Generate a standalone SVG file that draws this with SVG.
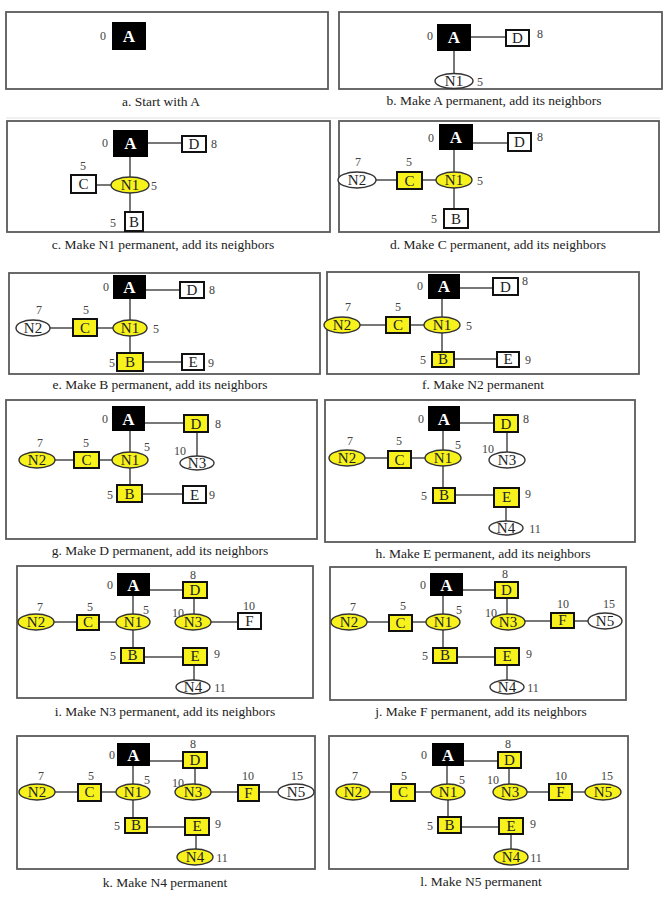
<svg xmlns="http://www.w3.org/2000/svg" width="672" height="900" viewBox="0 0 672 900" font-family="'Liberation Serif', serif">
<style>
.frame{fill:none;stroke:#5a5a5a;stroke-width:1.8}
.edge{stroke:#4a4a4a;stroke-width:1.5;fill:none}
.box{fill:#fff;stroke:#111;stroke-width:2}
.ell{fill:#fff;stroke:#333;stroke-width:1.4}
.y{fill:#f7f21c}
.blk{fill:#000;stroke:#000}
.l,.a,.n,.cap{font-family:'Liberation Serif',serif;text-anchor:middle}
.l{font-size:15px;fill:#222}
.a{font-size:17px;font-weight:bold;fill:#fff}
.n{font-size:12px;fill:#444}
.cap{font-size:13.5px;fill:#222}
.sep{stroke:#e2e2e2;stroke-width:1}
</style>
<rect width="672" height="900" fill="#fff"/>
<line class="sep" x1="6" y1="118" x2="660" y2="118"/>

<!-- Panel a -->
<g id="panel-a">
<rect class="frame" x="6" y="12" width="322" height="77"/>
<g id="a-A"><rect class="box blk" x="113" y="23" width="32" height="26"/><text class="a" x="129" y="42">A</text><text class="n" x="103" y="40">0</text></g>
<text class="cap" x="161" y="106">a. Start with  A</text>
</g>

<!-- Panel b -->
<g id="panel-b">
<rect class="frame" x="339" y="12" width="323" height="77"/>
<g id="b-edges"><line class="edge" x1="470" y1="37" x2="506" y2="37"/><line class="edge" x1="454" y1="50" x2="454" y2="73"/></g>
<g id="b-A"><rect class="box blk" x="438" y="25" width="32" height="25"/><text class="a" x="454" y="43">A</text><text class="n" x="430" y="40">0</text></g>
<g id="b-D"><rect class="box" x="506" y="30" width="23" height="16"/><text class="l" x="517.5" y="43">D</text><text class="n" x="540" y="38">8</text></g>
<g id="b-N1"><ellipse class="ell" cx="454" cy="81" rx="19" ry="7.5"/><text class="l" x="454" y="86">N1</text><text class="n" x="480" y="86">5</text></g>
<text class="cap" x="494" y="105">b. Make A permanent, add its neighbors</text>
</g>

<!-- Panel c -->
<g id="panel-c">
<rect class="frame" x="7" y="121" width="323" height="111"/>
<g id="c-edges"><line class="edge" x1="147" y1="143" x2="182" y2="143"/><line class="edge" x1="130" y1="156" x2="130" y2="177"/><line class="edge" x1="96" y1="185" x2="111" y2="185"/><line class="edge" x1="130" y1="193" x2="130" y2="212"/></g>
<g id="c-A"><rect class="box blk" x="114" y="131" width="33" height="25"/><text class="a" x="130.5" y="149">A</text><text class="n" x="105" y="147">0</text></g>
<g id="c-D"><rect class="box" x="182" y="136" width="24" height="16"/><text class="l" x="194" y="149">D</text><text class="n" x="214" y="148">8</text></g>
<g id="c-N1"><ellipse class="ell y" cx="130" cy="185" rx="19" ry="8"/><text class="l" x="130" y="190">N1</text><text class="n" x="154" y="190">5</text></g>
<g id="c-C"><rect class="box" x="71" y="175" width="25" height="18"/><text class="l" x="83.5" y="189">C</text><text class="n" x="83" y="170">5</text></g>
<g id="c-B"><rect class="box" x="125" y="212" width="18" height="19"/><text class="l" x="134" y="227">B</text><text class="n" x="113" y="227">5</text></g>
<text class="cap" x="163" y="249">c. Make N1 permanent, add its neighbors</text>
</g>

<!-- Panel d -->
<g id="panel-d">
<rect class="frame" x="339" y="121" width="320" height="111"/>
<g id="d-edges"><line class="edge" x1="472" y1="143" x2="508" y2="143"/><line class="edge" x1="454" y1="149" x2="454" y2="172"/><line class="edge" x1="422" y1="180" x2="436" y2="180"/><line class="edge" x1="376" y1="180" x2="397" y2="180"/><line class="edge" x1="454" y1="188" x2="454" y2="209"/></g>
<g id="d-A"><rect class="box blk" x="440" y="125" width="32" height="24"/><text class="a" x="456" y="143">A</text><text class="n" x="431" y="142">0</text></g>
<g id="d-D"><rect class="box" x="508" y="133" width="23" height="18"/><text class="l" x="519.5" y="147">D</text><text class="n" x="540" y="141">8</text></g>
<g id="d-N1"><ellipse class="ell y" cx="454" cy="180" rx="18" ry="8"/><text class="l" x="454" y="185">N1</text><text class="n" x="480" y="185">5</text></g>
<g id="d-C"><rect class="box y" x="397" y="172" width="25" height="17"/><text class="l" x="409.5" y="186">C</text><text class="n" x="409" y="166">5</text></g>
<g id="d-N2"><ellipse class="ell" cx="357" cy="180" rx="19" ry="8"/><text class="l" x="357" y="185">N2</text><text class="n" x="358" y="166">7</text></g>
<g id="d-B"><rect class="box" x="444" y="209" width="24" height="19"/><text class="l" x="456" y="224">B</text><text class="n" x="434" y="223">5</text></g>
<text class="cap" x="498" y="249">d. Make  C permanent, add its neighbors</text>
</g>

<!-- Panel e -->
<g id="panel-e">
<rect class="frame" x="9" y="273" width="311" height="101"/>
<g id="e-edges"><line class="edge" x1="145" y1="290" x2="180" y2="290"/><line class="edge" x1="130" y1="298" x2="130" y2="320"/><line class="edge" x1="97" y1="328" x2="113" y2="328"/><line class="edge" x1="50" y1="328" x2="73" y2="328"/><line class="edge" x1="130" y1="336" x2="130" y2="353"/><line class="edge" x1="143" y1="362" x2="182" y2="362"/></g>
<g id="e-A"><rect class="box blk" x="114" y="276" width="31" height="22"/><text class="a" x="129.5" y="293">A</text><text class="n" x="106" y="291">0</text></g>
<g id="e-D"><rect class="box" x="180" y="282" width="24" height="16"/><text class="l" x="192" y="295">D</text><text class="n" x="212" y="294">8</text></g>
<g id="e-N1"><ellipse class="ell y" cx="130" cy="328" rx="17" ry="8"/><text class="l" x="130" y="333">N1</text><text class="n" x="156" y="333">5</text></g>
<g id="e-C"><rect class="box y" x="73" y="319" width="24" height="17"/><text class="l" x="85" y="333">C</text><text class="n" x="86" y="314">5</text></g>
<g id="e-N2"><ellipse class="ell" cx="33" cy="328" rx="17" ry="8"/><text class="l" x="33" y="333">N2</text><text class="n" x="39" y="314">7</text></g>
<g id="e-B"><rect class="box y" x="117" y="353" width="26" height="18"/><text class="l" x="130" y="367">B</text><text class="n" x="112" y="367">5</text></g>
<g id="e-E"><rect class="box" x="182" y="354" width="22" height="16"/><text class="l" x="193" y="367">E</text><text class="n" x="211" y="367">9</text></g>
<text class="cap" x="160" y="389">e. Make B permanent, add its neighbors</text>
</g>

<!-- Panel f -->
<g id="panel-f">
<rect class="frame" x="327" y="272" width="312" height="102"/>
<g id="f-edges"><line class="edge" x1="459" y1="288" x2="493" y2="288"/><line class="edge" x1="442" y1="298" x2="442" y2="317"/><line class="edge" x1="410" y1="325" x2="424" y2="325"/><line class="edge" x1="360" y1="325" x2="386" y2="325"/><line class="edge" x1="442" y1="333" x2="442" y2="352"/><line class="edge" x1="454" y1="359" x2="497" y2="359"/></g>
<g id="f-A"><rect class="box blk" x="429" y="275" width="30" height="23"/><text class="a" x="444" y="292">A</text><text class="n" x="420" y="290">0</text></g>
<g id="f-D"><rect class="box" x="493" y="278" width="25" height="17"/><text class="l" x="505.5" y="292">D</text><text class="n" x="525" y="285">8</text></g>
<g id="f-N1"><ellipse class="ell y" cx="442" cy="325" rx="18" ry="8"/><text class="l" x="442" y="330">N1</text><text class="n" x="469" y="330">5</text></g>
<g id="f-C"><rect class="box y" x="386" y="317" width="24" height="16"/><text class="l" x="398" y="330">C</text><text class="n" x="398" y="311">5</text></g>
<g id="f-N2"><ellipse class="ell y" cx="342" cy="325" rx="18" ry="8"/><text class="l" x="342" y="330">N2</text><text class="n" x="348" y="311">7</text></g>
<g id="f-B"><rect class="box y" x="432" y="352" width="22" height="15"/><text class="l" x="443" y="364">B</text><text class="n" x="423" y="364">5</text></g>
<g id="f-E"><rect class="box" x="497" y="352" width="22" height="15"/><text class="l" x="508" y="364">E</text><text class="n" x="528" y="364">9</text></g>
<text class="cap" x="483" y="389">f. Make N2 permanent</text>
</g>

<!-- Panel g -->
<g id="panel-g">
<rect class="frame" x="6" y="400" width="311" height="139"/>
<g id="g-edges"><line class="edge" x1="144" y1="423" x2="184" y2="423"/><line class="edge" x1="130" y1="430" x2="130" y2="452"/><line class="edge" x1="99" y1="460" x2="112" y2="460"/><line class="edge" x1="55" y1="460" x2="74" y2="460"/><line class="edge" x1="197" y1="432" x2="197" y2="456"/><line class="edge" x1="130" y1="468" x2="130" y2="485"/><line class="edge" x1="142" y1="494" x2="183" y2="494"/></g>
<g id="g-A"><rect class="box blk" x="113" y="407" width="31" height="23"/><text class="a" x="128.5" y="425">A</text><text class="n" x="105" y="423">0</text></g>
<g id="g-D"><rect class="box y" x="184" y="415" width="24" height="17"/><text class="l" x="196" y="429">D</text><text class="n" x="218" y="428">8</text></g>
<g id="g-N1"><ellipse class="ell y" cx="130" cy="460" rx="18" ry="8"/><text class="l" x="130" y="465">N1</text><text class="n" x="147" y="451">5</text></g>
<g id="g-C"><rect class="box y" x="74" y="452" width="25" height="16"/><text class="l" x="86.5" y="465">C</text><text class="n" x="86" y="447">5</text></g>
<g id="g-N2"><ellipse class="ell y" cx="37" cy="460" rx="18" ry="8"/><text class="l" x="37" y="465">N2</text><text class="n" x="40" y="447">7</text></g>
<g id="g-N3"><ellipse class="ell" cx="197" cy="463" rx="17" ry="7"/><text class="l" x="197" y="468">N3</text><text class="n" x="180" y="455">10</text></g>
<g id="g-B"><rect class="box y" x="117" y="485" width="25" height="17"/><text class="l" x="129.5" y="499">B</text><text class="n" x="110" y="499">5</text></g>
<g id="g-E"><rect class="box" x="183" y="486" width="23" height="17"/><text class="l" x="194.5" y="500">E</text><text class="n" x="212" y="499">9</text></g>
<text class="cap" x="160" y="555">g. Make D permanent, add its neighbors</text>
</g>

<!-- Panel h -->
<g id="panel-h">
<rect class="frame" x="325" y="400" width="310" height="142"/>
<g id="h-edges"><line class="edge" x1="459" y1="423" x2="494" y2="423"/><line class="edge" x1="443" y1="430" x2="443" y2="450"/><line class="edge" x1="411" y1="458" x2="425" y2="458"/><line class="edge" x1="365" y1="458" x2="388" y2="458"/><line class="edge" x1="507" y1="432" x2="507" y2="452"/><line class="edge" x1="443" y1="466" x2="443" y2="488"/><line class="edge" x1="455" y1="495" x2="494" y2="495"/><line class="edge" x1="506" y1="507" x2="506" y2="521"/></g>
<g id="h-A"><rect class="box blk" x="429" y="407" width="30" height="23"/><text class="a" x="444" y="425">A</text><text class="n" x="421" y="423">0</text></g>
<g id="h-D"><rect class="box y" x="494" y="415" width="24" height="17"/><text class="l" x="506" y="429">D</text><text class="n" x="526" y="423">8</text></g>
<g id="h-N1"><ellipse class="ell y" cx="443" cy="458" rx="18" ry="8"/><text class="l" x="443" y="463">N1</text><text class="n" x="458" y="449">5</text></g>
<g id="h-C"><rect class="box y" x="388" y="451" width="23" height="17"/><text class="l" x="399.5" y="465">C</text><text class="n" x="399" y="445">5</text></g>
<g id="h-N2"><ellipse class="ell y" cx="347" cy="458" rx="18" ry="8"/><text class="l" x="347" y="463">N2</text><text class="n" x="350" y="445">7</text></g>
<g id="h-N3"><ellipse class="ell" cx="507" cy="460" rx="18" ry="8"/><text class="l" x="507" y="465">N3</text><text class="n" x="488" y="453">10</text></g>
<g id="h-B"><rect class="box y" x="433" y="488" width="22" height="15"/><text class="l" x="444" y="500">B</text><text class="n" x="424" y="500">5</text></g>
<g id="h-E"><rect class="box y" x="494" y="488" width="25" height="19"/><text class="l" x="506.5" y="502">E</text><text class="n" x="528" y="498">9</text></g>
<g id="h-N4"><ellipse class="ell" cx="506" cy="528" rx="17" ry="7"/><text class="l" x="506" y="533">N4</text><text class="n" x="535" y="533">11</text></g>
<text class="cap" x="483" y="558">h. Make E permanent, add its neighbors</text>
</g>

<!-- Panel i -->
<g id="panel-i">
<rect class="frame" x="17" y="566" width="296" height="132"/>
<g id="i-edges"><line class="edge" x1="149" y1="590" x2="183" y2="590"/><line class="edge" x1="133" y1="595" x2="133" y2="614"/><line class="edge" x1="99" y1="622" x2="116" y2="622"/><line class="edge" x1="54" y1="622" x2="77" y2="622"/><line class="edge" x1="194" y1="598" x2="194" y2="614"/><line class="edge" x1="211" y1="622" x2="238" y2="622"/><line class="edge" x1="133" y1="630" x2="133" y2="648"/><line class="edge" x1="144" y1="657" x2="183" y2="657"/><line class="edge" x1="194" y1="665" x2="194" y2="680"/></g>
<g id="i-A"><rect class="box blk" x="118" y="574" width="31" height="21"/><text class="a" x="133.5" y="591">A</text><text class="n" x="110" y="589">0</text></g>
<g id="i-D"><rect class="box y" x="183" y="582" width="24" height="16"/><text class="l" x="195" y="595">D</text><text class="n" x="193" y="579">8</text></g>
<g id="i-N1"><ellipse class="ell y" cx="133" cy="622" rx="17" ry="8"/><text class="l" x="133" y="627">N1</text><text class="n" x="146" y="614">5</text></g>
<g id="i-C"><rect class="box y" x="77" y="615" width="22" height="15"/><text class="l" x="88" y="627">C</text><text class="n" x="90" y="611">5</text></g>
<g id="i-N2"><ellipse class="ell y" cx="36" cy="622" rx="18" ry="8"/><text class="l" x="36" y="627">N2</text><text class="n" x="40" y="611">7</text></g>
<g id="i-N3"><ellipse class="ell y" cx="193" cy="622" rx="18" ry="8"/><text class="l" x="193" y="627">N3</text><text class="n" x="178" y="617">10</text></g>
<g id="i-F"><rect class="box" x="238" y="613" width="23" height="16"/><text class="l" x="249.5" y="626">F</text><text class="n" x="249" y="610">10</text></g>
<g id="i-B"><rect class="box y" x="121" y="648" width="23" height="15"/><text class="l" x="132.5" y="660">B</text><text class="n" x="113" y="660">5</text></g>
<g id="i-E"><rect class="box y" x="183" y="648" width="24" height="17"/><text class="l" x="195" y="661">E</text><text class="n" x="217" y="658">9</text></g>
<g id="i-N4"><ellipse class="ell" cx="193" cy="687" rx="17" ry="7"/><text class="l" x="193" y="692">N4</text><text class="n" x="220" y="692">11</text></g>
<text class="cap" x="165" y="716">i. Make N3 permanent, add its neighbors</text>
</g>

<!-- Panel j -->
<g id="panel-j">
<rect class="frame" x="330" y="567" width="296" height="133"/>
<g id="j-edges"><line class="edge" x1="462" y1="590" x2="495" y2="590"/><line class="edge" x1="443" y1="595" x2="443" y2="614"/><line class="edge" x1="412" y1="622" x2="426" y2="622"/><line class="edge" x1="367" y1="622" x2="389" y2="622"/><line class="edge" x1="507" y1="598" x2="507" y2="614"/><line class="edge" x1="525" y1="621" x2="551" y2="621"/><line class="edge" x1="574" y1="621" x2="588" y2="621"/><line class="edge" x1="443" y1="630" x2="443" y2="648"/><line class="edge" x1="457" y1="657" x2="495" y2="657"/><line class="edge" x1="507" y1="665" x2="507" y2="680"/></g>
<g id="j-A"><rect class="box blk" x="431" y="574" width="31" height="21"/><text class="a" x="446.5" y="591">A</text><text class="n" x="423" y="589">0</text></g>
<g id="j-D"><rect class="box y" x="495" y="582" width="23" height="16"/><text class="l" x="506.5" y="595">D</text><text class="n" x="505" y="578">8</text></g>
<g id="j-N1"><ellipse class="ell y" cx="443" cy="622" rx="17" ry="8"/><text class="l" x="443" y="627">N1</text><text class="n" x="459" y="614">5</text></g>
<g id="j-C"><rect class="box y" x="389" y="615" width="23" height="16"/><text class="l" x="400.5" y="628">C</text><text class="n" x="403" y="610">5</text></g>
<g id="j-N2"><ellipse class="ell y" cx="349" cy="622" rx="18" ry="8"/><text class="l" x="349" y="627">N2</text><text class="n" x="353" y="611">7</text></g>
<g id="j-N3"><ellipse class="ell y" cx="508" cy="622" rx="17" ry="8"/><text class="l" x="508" y="627">N3</text><text class="n" x="491" y="617">10</text></g>
<g id="j-F"><rect class="box y" x="551" y="613" width="23" height="15"/><text class="l" x="562.5" y="625">F</text><text class="n" x="563" y="608">10</text></g>
<g id="j-N5"><ellipse class="ell" cx="605" cy="621" rx="17" ry="8"/><text class="l" x="605" y="626">N5</text><text class="n" x="609" y="608">15</text></g>
<g id="j-B"><rect class="box y" x="433" y="648" width="24" height="15"/><text class="l" x="445" y="660">B</text><text class="n" x="425" y="660">5</text></g>
<g id="j-E"><rect class="box y" x="495" y="648" width="24" height="17"/><text class="l" x="507" y="661">E</text><text class="n" x="529" y="658">9</text></g>
<g id="j-N4"><ellipse class="ell" cx="507" cy="687" rx="17" ry="7"/><text class="l" x="507" y="692">N4</text><text class="n" x="533" y="692">11</text></g>
<text class="cap" x="481" y="716">j. Make F permanent, add its neighbors</text>
</g>

<!-- Panel k -->
<g id="panel-k">
<rect class="frame" x="17" y="736" width="298" height="133"/>
<g id="k-edges"><line class="edge" x1="149" y1="761" x2="183" y2="761"/><line class="edge" x1="133" y1="765" x2="133" y2="784"/><line class="edge" x1="101" y1="792" x2="116" y2="792"/><line class="edge" x1="55" y1="792" x2="78" y2="792"/><line class="edge" x1="195" y1="768" x2="195" y2="784"/><line class="edge" x1="211" y1="792" x2="238" y2="792"/><line class="edge" x1="259" y1="792" x2="278" y2="792"/><line class="edge" x1="133" y1="800" x2="133" y2="818"/><line class="edge" x1="147" y1="827" x2="185" y2="827"/><line class="edge" x1="196" y1="835" x2="196" y2="849"/></g>
<g id="k-A"><rect class="box blk" x="118" y="744" width="31" height="21"/><text class="a" x="133.5" y="761">A</text><text class="n" x="112" y="759">0</text></g>
<g id="k-D"><rect class="box y" x="183" y="752" width="24" height="16"/><text class="l" x="195" y="765">D</text><text class="n" x="193" y="748">8</text></g>
<g id="k-N1"><ellipse class="ell y" cx="133" cy="792" rx="17" ry="8"/><text class="l" x="133" y="797">N1</text><text class="n" x="147" y="784">5</text></g>
<g id="k-C"><rect class="box y" x="78" y="784" width="23" height="17"/><text class="l" x="89.5" y="797">C</text><text class="n" x="91" y="780">5</text></g>
<g id="k-N2"><ellipse class="ell y" cx="37" cy="792" rx="18" ry="8"/><text class="l" x="37" y="797">N2</text><text class="n" x="41" y="780">7</text></g>
<g id="k-N3"><ellipse class="ell y" cx="193" cy="792" rx="18" ry="8"/><text class="l" x="193" y="797">N3</text><text class="n" x="178" y="787">10</text></g>
<g id="k-F"><rect class="box y" x="238" y="785" width="21" height="16"/><text class="l" x="248.5" y="798">F</text><text class="n" x="248" y="780">10</text></g>
<g id="k-N5"><ellipse class="ell" cx="296" cy="792" rx="18" ry="8"/><text class="l" x="296" y="797">N5</text><text class="n" x="297" y="780">15</text></g>
<g id="k-B"><rect class="box y" x="125" y="818" width="22" height="15"/><text class="l" x="136" y="830">B</text><text class="n" x="117" y="830">5</text></g>
<g id="k-E"><rect class="box y" x="185" y="818" width="24" height="17"/><text class="l" x="197" y="831">E</text><text class="n" x="218" y="828">9</text></g>
<g id="k-N4"><ellipse class="ell y" cx="195" cy="857" rx="18" ry="8"/><text class="l" x="195" y="862">N4</text><text class="n" x="222" y="862">11</text></g>
<text class="cap" x="165" y="887">k. Make N4 permanent</text>
</g>

<!-- Panel l -->
<g id="panel-l">
<rect class="frame" x="329" y="736" width="299" height="133"/>
<g id="l-edges"><line class="edge" x1="463" y1="761" x2="498" y2="761"/><line class="edge" x1="447" y1="765" x2="447" y2="784"/><line class="edge" x1="415" y1="792" x2="431" y2="792"/><line class="edge" x1="370" y1="792" x2="391" y2="792"/><line class="edge" x1="509" y1="768" x2="509" y2="784"/><line class="edge" x1="527" y1="792" x2="549" y2="792"/><line class="edge" x1="572" y1="792" x2="585" y2="792"/><line class="edge" x1="448" y1="800" x2="448" y2="817"/><line class="edge" x1="461" y1="827" x2="499" y2="827"/><line class="edge" x1="511" y1="834" x2="511" y2="849"/></g>
<g id="l-A"><rect class="box blk" x="433" y="744" width="30" height="21"/><text class="a" x="448" y="761">A</text><text class="n" x="424" y="759">0</text></g>
<g id="l-D"><rect class="box y" x="498" y="752" width="23" height="16"/><text class="l" x="509.5" y="765">D</text><text class="n" x="508" y="748">8</text></g>
<g id="l-N1"><ellipse class="ell y" cx="448" cy="792" rx="17" ry="8"/><text class="l" x="448" y="797">N1</text><text class="n" x="462" y="784">5</text></g>
<g id="l-C"><rect class="box y" x="391" y="784" width="24" height="17"/><text class="l" x="403" y="797">C</text><text class="n" x="404" y="780">5</text></g>
<g id="l-N2"><ellipse class="ell y" cx="353" cy="792" rx="17" ry="8"/><text class="l" x="353" y="797">N2</text><text class="n" x="355" y="780">7</text></g>
<g id="l-N3"><ellipse class="ell y" cx="510" cy="792" rx="17" ry="8"/><text class="l" x="510" y="797">N3</text><text class="n" x="493" y="784">10</text></g>
<g id="l-F"><rect class="box y" x="549" y="784" width="23" height="16"/><text class="l" x="560.5" y="797">F</text><text class="n" x="561" y="780">10</text></g>
<g id="l-N5"><ellipse class="ell y" cx="603" cy="792" rx="18" ry="8"/><text class="l" x="603" y="797">N5</text><text class="n" x="607" y="780">15</text></g>
<g id="l-B"><rect class="box y" x="438" y="817" width="23" height="16"/><text class="l" x="449.5" y="830">B</text><text class="n" x="430" y="830">5</text></g>
<g id="l-E"><rect class="box y" x="499" y="818" width="24" height="16"/><text class="l" x="511" y="831">E</text><text class="n" x="533" y="828">9</text></g>
<g id="l-N4"><ellipse class="ell y" cx="511" cy="857" rx="17" ry="8"/><text class="l" x="511" y="862">N4</text><text class="n" x="536" y="862">11</text></g>
<text class="cap" x="481" y="886">l. Make N5 permanent</text>
</g>
</svg>
